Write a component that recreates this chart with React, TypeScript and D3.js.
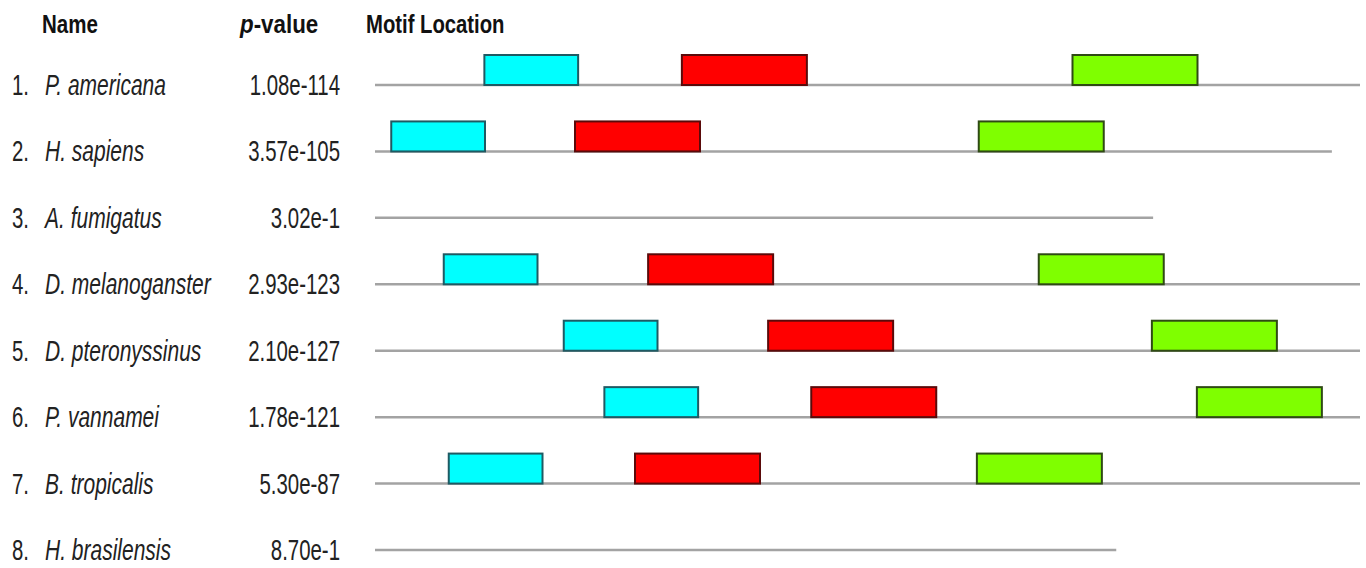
import * as d3 from 'd3';

// Species rows (top to bottom)
const NUMBERS = ['1.', '2.', '3.', '4.', '5.', '6.', '7.', '8.'];
const SPECIES = [
  'P. americana',
  'H. sapiens',
  'A. fumigatus',
  'D. melanoganster',
  'D. pteronyssinus',
  'P. vannamei',
  'B. tropicalis',
  'H. brasilensis',
];
const P_VALUES = [
  '1.08e-114',
  '3.57e-105',
  '3.02e-1',
  '2.93e-123',
  '2.10e-127',
  '1.78e-121',
  '5.30e-87',
  '8.70e-1',
];

// Sequence length (residues) and motif start positions; null = motif absent
const SEQ_LENGTH = [157.6, 153.1, 124.5, 157.6, 157.6, 157.6, 157.6, 118.6];
const MOTIF1_START = [17.5, 2.6, null, 11.0, 30.2, 36.7, 11.8, null];
const MOTIF2_START = [49.1, 32.0, null, 43.7, 62.9, 69.8, 41.6, null];
const MOTIF3_START = [111.6, 96.6, null, 106.2, 124.3, 131.5, 96.3, null];

const MOTIF_LENGTHS = [15, 20, 20];
const MOTIF_COLORS = ['#00FFFF', '#FF0000', '#7FFF00'];
const MOTIF_STROKES = ['#1f5a63', '#5a0a0a', '#2f4a14'];

const W = 1366;
const H = 568;
const FONT = '"Liberation Sans", Arial, sans-serif';

export default function App() {
  const x = d3.scaleLinear().domain([0, 157.6]).range([375, 1360]);
  const y = d3.scaleLinear().domain([0, SPECIES.length - 1]).range([85, 550]);
  const boxH = 30;
  const starts = [MOTIF1_START, MOTIF2_START, MOTIF3_START];

  return (
    <svg width={W} height={H} style={{ position: 'absolute', left: 0, top: 0, background: '#fff' }}>
      {/* Headers */}
      <g fontFamily={FONT} fontWeight={700} fontSize={26} fill="#111">
        <text transform="translate(42,33) scale(0.79,1)">Name</text>
        <text transform="translate(240,33) scale(0.86,1)">
          <tspan fontStyle="italic">p</tspan>-value
        </text>
        <text transform="translate(366,33) scale(0.78,1)">Motif Location</text>
      </g>

      {SPECIES.map((name, i) => {
        const cy = y(i);
        return (
          <g key={name}>
            <g fontFamily={FONT} fontSize={30} fill="#222">
              <text transform={`translate(12,${cy + 10}) scale(0.68,1)`}>{NUMBERS[i]}</text>
              <text transform={`translate(45,${cy + 10}) scale(0.7,1)`} fontStyle="italic">{name}</text>
              <text transform={`translate(340,${cy + 10}) scale(0.68,1)`} textAnchor="end">{P_VALUES[i]}</text>
            </g>
            <line x1={x(0)} x2={x(SEQ_LENGTH[i])} y1={cy} y2={cy} stroke="#a3a3a3" strokeWidth={2.5} />
            {starts.map((arr, m) => {
              const s = arr[i];
              if (s == null) return null;
              return (
                <rect
                  key={m}
                  x={x(s)}
                  y={cy - boxH}
                  width={x(s + MOTIF_LENGTHS[m]) - x(s)}
                  height={boxH}
                  fill={MOTIF_COLORS[m]}
                  stroke={MOTIF_STROKES[m]}
                  strokeWidth={2}
                />
              );
            })}
          </g>
        );
      })}
    </svg>
  );
}
